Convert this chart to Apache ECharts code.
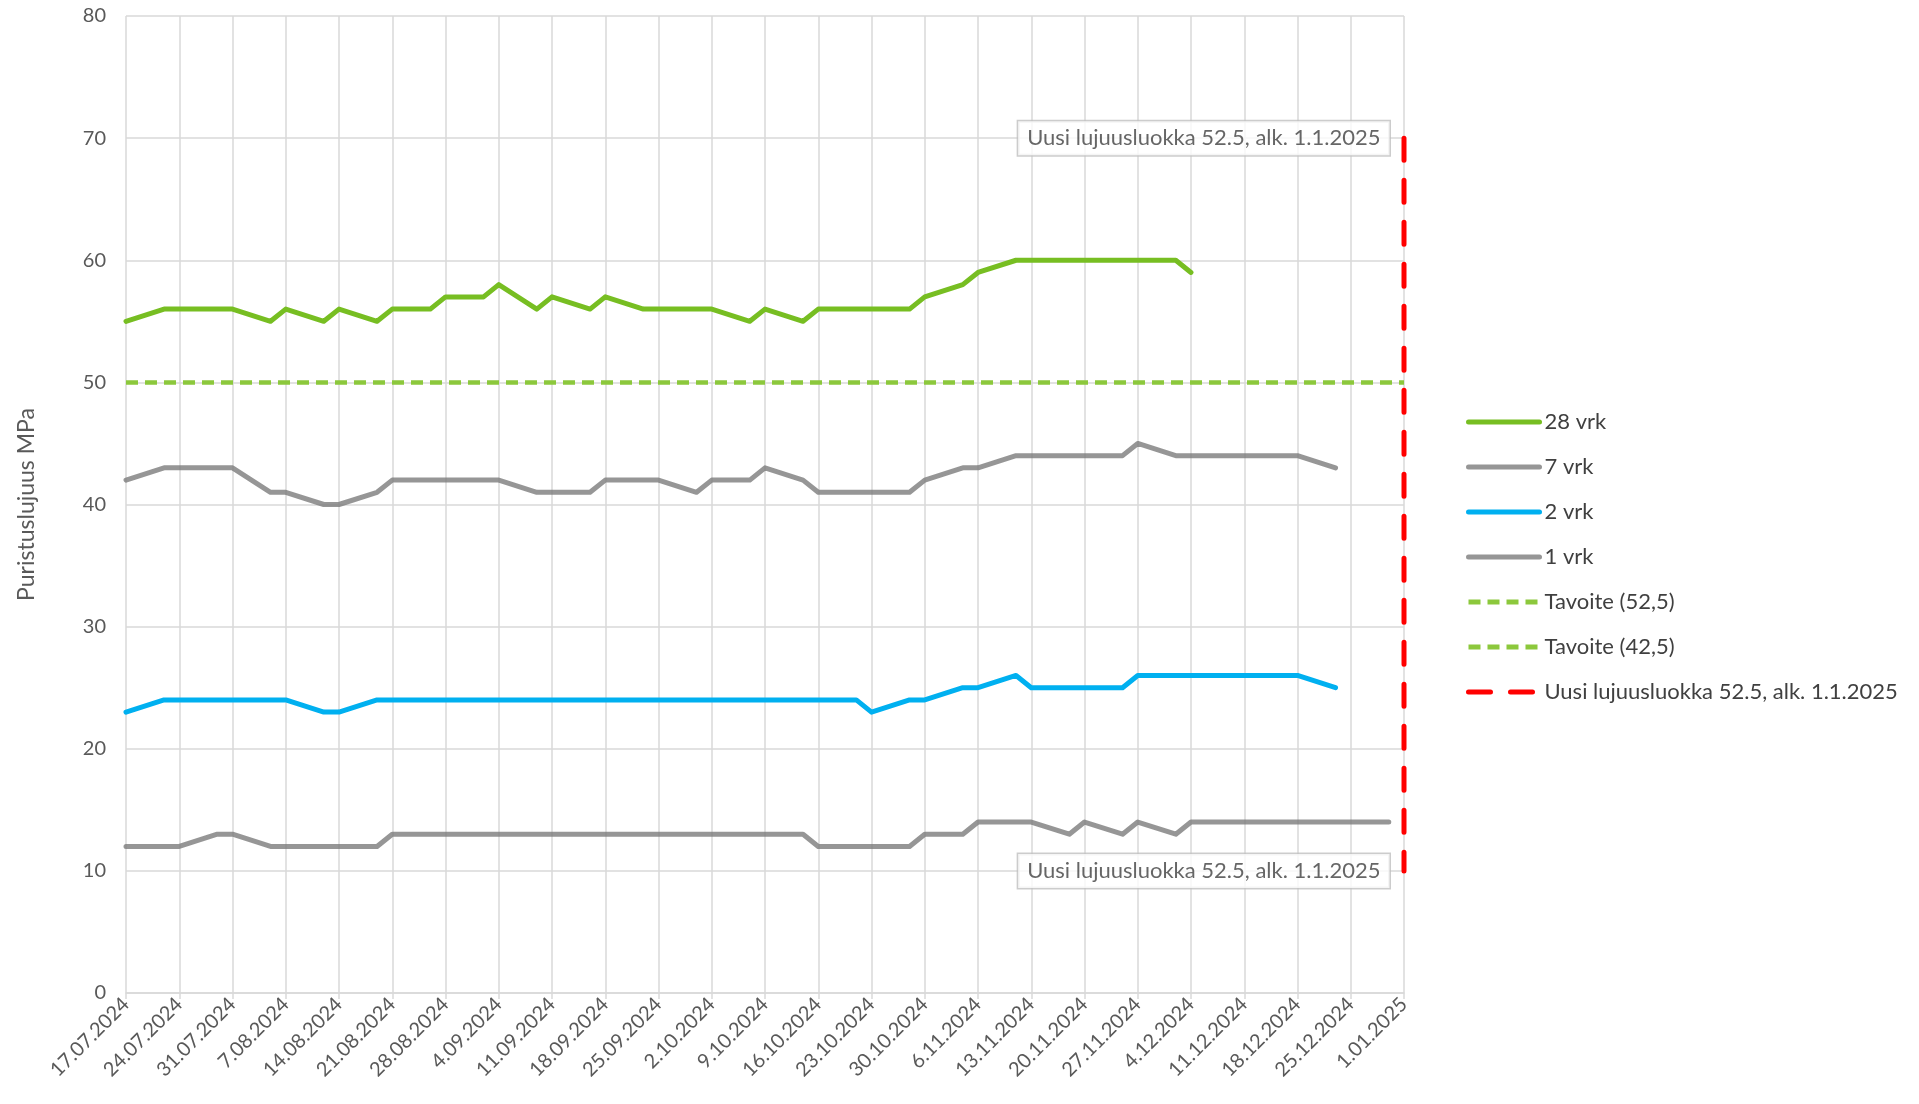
<!DOCTYPE html>
<html>
<head>
<meta charset="utf-8">
<script src="https://cdn.jsdelivr.net/npm/echarts@6/dist/echarts.min.js"></script>
<style>
  html, body { margin: 0; padding: 0; background: #fff; }
  #chart { width: 1919px; height: 1104px; }
</style>
</head>
<body>
<div id="chart"></div>
<script>
// mittauspäivät (ma + ke)
const dates = ['2024-07-17', '2024-07-22', '2024-07-24', '2024-07-29', '2024-07-31',
  '2024-08-05', '2024-08-07', '2024-08-12', '2024-08-14', '2024-08-19', '2024-08-21', '2024-08-26', '2024-08-28',
  '2024-09-02', '2024-09-04', '2024-09-09', '2024-09-11', '2024-09-16', '2024-09-18', '2024-09-23', '2024-09-25', '2024-09-30',
  '2024-10-02', '2024-10-07', '2024-10-09', '2024-10-14', '2024-10-16', '2024-10-21', '2024-10-23', '2024-10-28', '2024-10-30',
  '2024-11-04', '2024-11-06', '2024-11-11', '2024-11-13', '2024-11-18', '2024-11-20', '2024-11-25', '2024-11-27',
  '2024-12-02', '2024-12-04', '2024-12-09', '2024-12-11', '2024-12-16', '2024-12-18', '2024-12-23', '2024-12-25', '2024-12-30']

const vrk28 = [55, 56, 56, 56, 56, 55, 56, 55, 56, 55, 56, 56, 57, 57, 58, 56, 57, 56, 57, 56, 56, 56,
  56, 55, 56, 55, 56, 56, 56, 56, 57, 58, 59, 60, 60, 60, 60, 60, 60, 60, 59,
  null, null, null, null, null, null, null]
const vrk7 = [42, 43, 43, 43, 43, 41, 41, 40, 40, 41, 42, 42, 42, 42, 42, 41, 41, 41, 42, 42, 42, 41,
  42, 42, 43, 42, 41, 41, 41, 41, 42, 43, 43, 44, 44, 44, 44, 44, 45, 44, 44,
  44, 44, 44, 44, 43, null, null]
const vrk2 = [23, 24, 24, 24, 24, 24, 24, 23, 23, 24, 24, 24, 24, 24, 24, 24, 24, 24, 24, 24, 24, 24,
  24, 24, 24, 24, 24, 24, 23, 24, 24, 25, 25, 26, 25, 25, 25, 25, 26, 26, 26,
  26, 26, 26, 26, 25, null, null]
const vrk1 = [12, 12, 12, 13, 13, 12, 12, 12, 12, 12, 13, 13, 13, 13, 13, 13, 13, 13, 13, 13, 13, 13,
  13, 13, 13, 13, 12, 12, 12, 12, 13, 13, 14, 14, 14, 13, 14, 13, 14, 13, 14,
  14, 14, 14, 14, 14, 14, 14]

const targetDates = ['2024-07-17', '2025-01-01']
const target525 = [50, 50]
const target425 = [50, 50]

const newClassDates = ['2025-01-01', '2025-01-01']
const newClassValues = [70, 10]
const newClassName = 'Uusi lujuusluokka 52.5, alk. 1.1.2025'

const startDate = '2024-07-17'
const endDate = '2025-01-01'

const DAY = 86400000
const t0 = Date.parse(startDate)
const dayOf = d => Math.round((Date.parse(d) - t0) / DAY)
const pair = (ds, vs) => ds.map((d, i) => [dayOf(d), vs[i]])
const pad = n => (n < 10 ? '0' : '') + n
const fmtDate = v => {
  const d = new Date(t0 + v * DAY)
  return d.getUTCDate() + '.' + pad(d.getUTCMonth() + 1) + '.' + d.getUTCFullYear()
}

const FONT = 'Lato'
const GREEN = '#77BE22'
const GREY = 'rgba(120,120,120,0.78)'
const BLUE = '#00B0F0'
const LGREEN = '#8CC83C'
const RED = '#FF0000'

const chart = echarts.init(document.getElementById('chart'))

function solid(name, color, data) {
  return {
    name, type: 'line', data, symbol: 'none', connectNulls: false,
    lineStyle: { color, width: 5, cap: 'round', join: 'round' },
    itemStyle: { color }
  }
}

const calloutLabel = {
  show: true,
  position: 'left',
  distance: 14,
  formatter: newClassName,
  fontFamily: FONT,
  fontSize: 22,
  color: '#404040',
  backgroundColor: '#fff',
  borderColor: '#BFBFBF',
  borderWidth: 1.5,
  padding: [7, 9, 5, 9]
}

chart.setOption({
  animation: false,
  textStyle: { fontFamily: FONT },
  grid: { left: 126, right: 515, top: 16, bottom: 111 },
  legend: {
    orient: 'vertical',
    left: 1461,
    top: 406,
    itemWidth: 71,
    itemHeight: 14,
    itemGap: 23,
    itemStyle: { opacity: 0 },
    lineStyle: { width: 5 },
    textStyle: { fontFamily: FONT, fontSize: 22, color: '#404040' },
    data: ['28 vrk', '7 vrk', '2 vrk', '1 vrk', 'Tavoite (52,5)', 'Tavoite (42,5)', newClassName]
  },
  xAxis: {
    type: 'value',
    min: dayOf(startDate),
    max: dayOf(endDate),
    interval: 7,
    axisLine: { show: true, lineStyle: { color: '#D9D9D9', width: 1.5 } },
    axisTick: { show: true, length: 6, lineStyle: { color: '#D9D9D9', width: 1.5 } },
    splitLine: { show: true, lineStyle: { color: '#D9D9D9', width: 1.5 } },
    axisLabel: {
      rotate: 45,
      margin: 8,
      fontSize: 20,
      color: '#595959',
      fontFamily: FONT,
      formatter: fmtDate
    }
  },
  yAxis: {
    type: 'value',
    min: 0,
    max: 80,
    interval: 10,
    name: 'Puristuslujuus MPa',
    nameLocation: 'middle',
    nameGap: 88,
    nameTextStyle: { fontFamily: FONT, fontSize: 23, color: '#595959' },
    axisLine: { show: false },
    axisTick: { show: false },
    splitLine: { lineStyle: { color: '#D9D9D9', width: 1.5 } },
    axisLabel: { margin: 20, fontSize: 20, color: '#595959', fontFamily: FONT }
  },
  series: [
    solid('28 vrk', GREEN, pair(dates, vrk28)),
    solid('7 vrk', GREY, pair(dates, vrk7)),
    solid('2 vrk', BLUE, pair(dates, vrk2)),
    solid('1 vrk', GREY, pair(dates, vrk1)),
    {
      name: 'Tavoite (52,5)', type: 'line', symbol: 'none',
      data: pair(targetDates, target525),
      lineStyle: { color: LGREEN, width: 4, type: [12, 7] },
      itemStyle: { color: LGREEN }
    },
    {
      name: 'Tavoite (42,5)', type: 'line', symbol: 'none',
      data: pair(targetDates, target425),
      lineStyle: { color: LGREEN, width: 4, type: [12, 7] },
      itemStyle: { color: LGREEN }
    },
    {
      name: newClassName, type: 'line', symbol: 'none', z: 5,
      data: pair(newClassDates, newClassValues),
      lineStyle: { color: RED, width: 5, type: [22, 20], cap: 'round' },
      itemStyle: { color: RED }
    },
    {
      name: 'callouts', type: 'scatter', symbol: 'circle', symbolSize: 1, z: 6,
      data: pair(newClassDates, newClassValues),
      itemStyle: { color: RED },
      label: calloutLabel,
      silent: true
    }
  ]
})
</script>
</body>
</html>
